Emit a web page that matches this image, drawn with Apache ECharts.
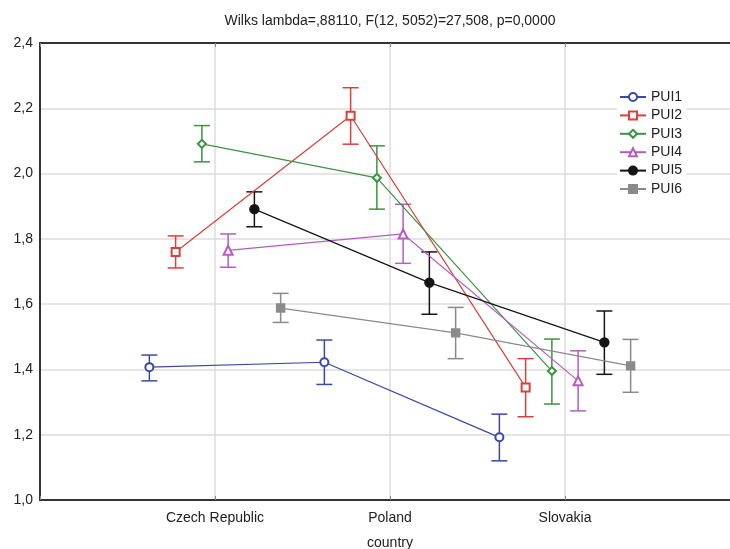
<!DOCTYPE html>
<html>
<head>
<meta charset="utf-8">
<script src="https://cdn.jsdelivr.net/npm/echarts@6/dist/echarts.min.js"></script>
<style>
  html, body { margin: 0; padding: 0; background: #fff; }
  #chart { width: 730px; height: 549px; }
</style>
</head>
<body>
<div id="chart"></div>
<script>
// countries on the x axis
const categories = ['Czech Republic', 'Poland', 'Slovakia'];
const seriesNames = ['PUI1', 'PUI2', 'PUI3', 'PUI4', 'PUI5', 'PUI6'];
const yTicks = [1.0, 1.2, 1.4, 1.6, 1.8, 2.0, 2.2, 2.4];

// means per series (Czech, Poland, Slovakia)
const pui1 = [1.407, 1.422, 1.192];
const pui2 = [1.760, 2.177, 1.345];
const pui3 = [2.091, 1.987, 1.395];
const pui4 = [1.765, 1.815, 1.365];
const pui5 = [1.891, 1.666, 1.483];
const pui6 = [1.588, 1.512, 1.411];

// confidence interval bounds
const lower1 = [1.365, 1.354, 1.120];
const lower2 = [1.711, 2.090, 1.255];
const lower3 = [2.036, 1.891, 1.294];
const lower4 = [1.713, 1.725, 1.273];
const lower5 = [1.837, 1.569, 1.385];
const lower6 = [1.544, 1.433, 1.330];

const upper1 = [1.444, 1.490, 1.263];
const upper2 = [1.809, 2.263, 1.433];
const upper3 = [2.147, 2.085, 1.493];
const upper4 = [1.815, 1.906, 1.457];
const upper5 = [1.944, 1.760, 1.579];
const upper6 = [1.633, 1.590, 1.492];

const means = [pui1, pui2, pui3, pui4, pui5, pui6];
const lowers = [lower1, lower2, lower3, lower4, lower5, lower6];
const uppers = [upper1, upper2, upper3, upper4, upper5, upper6];

// horizontal shift of each series inside a category
const offsets = [-0.375, -0.225, -0.075, 0.075, 0.225, 0.375];
const colors = ['#3a48a8', '#d8403c', '#3a9440', '#b45cc2', '#151515', '#8a8a8a'];
const symbols = ['emptyCircle', 'emptyRect', 'emptyDiamond', 'emptyTriangle', 'circle', 'rect'];
const symbolSizes = [8, 8, 8, 9, 9, 8];

const font = 'Liberation Sans, Arial, sans-serif';
const myChart = echarts.init(document.getElementById('chart'));

let lineSeries = [];
let barSeries = [];
seriesNames.forEach((name, i) => {
    lineSeries.push({
        name: name,
        type: 'line',
        symbol: symbols[i],
        symbolSize: symbolSizes[i],
        lineStyle: { color: colors[i], width: 1.2 },
        itemStyle: { color: colors[i], borderColor: colors[i], borderWidth: 1.4 },
        z: 3,
        data: means[i].map((v, k) => [k + 1 + offsets[i], v])
    });
    barSeries.push({
        name: name,
        type: 'custom',
        z: 2,
        renderItem(params, api) {
            const x = api.value(0);
            const lo = api.coord([x, api.value(1)]);
            const hi = api.coord([x, api.value(2)]);
            const cap = 8;
            const style = { stroke: colors[i], lineWidth: 1.5 };
            return {
                type: 'group',
                children: [
                    { type: 'line', shape: { x1: lo[0], y1: lo[1], x2: hi[0], y2: hi[1] }, style: style },
                    { type: 'line', shape: { x1: lo[0] - cap, y1: lo[1], x2: lo[0] + cap, y2: lo[1] }, style: style },
                    { type: 'line', shape: { x1: hi[0] - cap, y1: hi[1], x2: hi[0] + cap, y2: hi[1] }, style: style }
                ]
            };
        },
        data: means[i].map((v, k) => [k + 1 + offsets[i], lowers[i][k], uppers[i][k]])
    });
});

myChart.setOption({
    animation: false,
    title: {
        text: 'Wilks lambda=,88110, F(12, 5052)=27,508, p=0,0000',
        left: 385,
        textAlign: 'center',
        top: 9,
        textStyle: { fontFamily: font, fontSize: 14, fontWeight: 'normal', color: '#222' }
    },
    legend: {
        data: seriesNames,
        orient: 'vertical',
        left: 617,
        top: 87,
        itemWidth: 26,
        itemHeight: 10,
        itemGap: 2.4,
        backgroundColor: '#fff',
        padding: [2, 4, 2, 2],
        textStyle: { fontFamily: font, fontSize: 14, color: '#222', lineHeight: 16 }
    },
    grid: {
        left: 40,
        right: -10,
        top: 43,
        bottom: 49,
        outerBoundsMode: 'none'
    },
    xAxis: [
        {
            type: 'value',
            min: 0,
            max: 4,
            interval: 1,
            name: 'country',
            nameLocation: 'middle',
            nameGap: 36,
            nameTextStyle: { fontFamily: font, fontSize: 14, color: '#222' },
            axisLine: { lineStyle: { color: '#333', width: 2 } },
            axisTick: { show: true, inside: true, length: 4, lineStyle: { color: '#888' } },
            axisLabel: {
                fontFamily: font,
                fontSize: 14,
                color: '#222',
                margin: 11,
                formatter(v) {
                    return categories[Math.round(v) - 1] || '';
                }
            },
            splitLine: { show: true, lineStyle: { color: '#dcdcdc', width: 1.5 } }
        },
        {
            type: 'value',
            position: 'top',
            min: 0,
            max: 4,
            interval: 1,
            axisLine: { show: true, lineStyle: { color: '#333', width: 2 } },
            axisTick: { show: true, inside: true, length: 4, lineStyle: { color: '#888' } },
            axisLabel: { show: false },
            splitLine: { show: false }
        }
    ],
    yAxis: {
        type: 'value',
        min: yTicks[0],
        max: yTicks[yTicks.length - 1],
        interval: 0.2,
        axisLine: { show: true, lineStyle: { color: '#333', width: 2 } },
        axisTick: { show: false },
        axisLabel: {
            fontFamily: font,
            fontSize: 14,
            color: '#222',
            margin: 7,
            formatter(v) {
                return v.toFixed(1).replace('.', ',');
            }
        },
        splitLine: { show: true, lineStyle: { color: '#dcdcdc', width: 1.5 } }
    },
    series: lineSeries.concat(barSeries)
});
</script>
</body>
</html>
